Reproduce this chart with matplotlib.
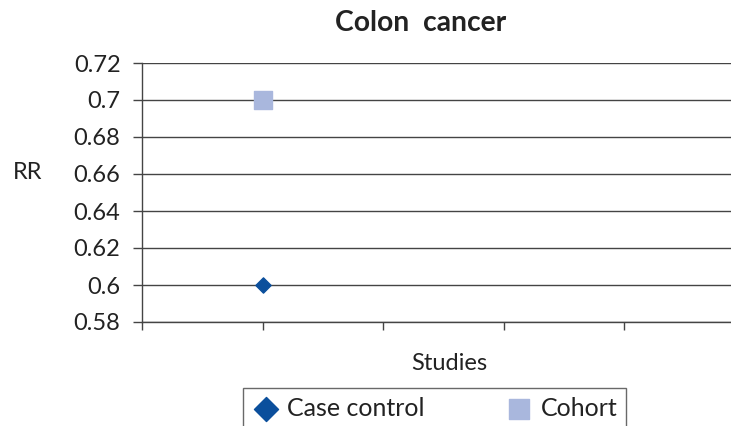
import matplotlib.pyplot as plt

# Data
series = ['Case control', 'Cohort']
study_x = [1, 1]
rr_values = [0.60, 0.70]
y_ticks = [0.58, 0.60, 0.62, 0.64, 0.66, 0.68, 0.70, 0.72]
y_tick_labels = ['0.58', '0.6', '0.62', '0.64', '0.66', '0.68', '0.7', '0.72']

plt.rcParams['font.family'] = ['Lato', 'DejaVu Sans']
text_color = '#222222'
line_color = '#444444'

fig = plt.figure(figsize=(7.31, 4.26), dpi=100)
# plot area runs past the right edge of the picture
ax = fig.add_axes([142 / 731, 1 - 322 / 426, 603 / 731, 259 / 426])

ax.scatter(study_x[0], rr_values[0], marker='D', s=60, color='#0B4F9C',
           label=series[0], zorder=3)
ax.scatter(study_x[1], rr_values[1], marker='s', s=150, color='#A9B7DD',
           label=series[1], zorder=3)

ax.set_xlim(0, 5)
ax.set_ylim(0.58, 0.72)
ax.set_xticks(range(6))
ax.set_xticklabels([])
ax.set_yticks(y_ticks)
ax.set_yticklabels(y_tick_labels)
ax.tick_params(axis='y', direction='out', length=6.5, width=1, color=line_color,
               labelsize=17, labelcolor=text_color, pad=9)
ax.tick_params(axis='x', direction='out', length=5.8, width=1, color=line_color)
ax.grid(axis='y', color=line_color, linewidth=1)
ax.set_axisbelow(True)
for side in ['top', 'right']:
    ax.spines[side].set_visible(False)
for side in ['left', 'bottom']:
    ax.spines[side].set_color(line_color)
    ax.spines[side].set_linewidth(1)

fig.text(421 / 731, 1 - 23 / 426, 'Colon  cancer', ha='center', va='center',
         fontsize=20.3, fontweight='bold', color=text_color)
fig.text(449 / 731, 1 - 364 / 426, 'Studies', ha='center', va='center',
         fontsize=17, color=text_color)
fig.text(28 / 731, 1 - 172 / 426, 'RR', ha='center', va='center',
         fontsize=17, color=text_color)

leg = fig.legend(loc='upper left', bbox_to_anchor=(243 / 731, 1 - 388 / 426),
                 borderaxespad=0, ncol=2, fontsize=18, frameon=True,
                 fancybox=False, columnspacing=3.25, handlelength=1.1,
                 handletextpad=0.3, borderpad=0.35, labelcolor=text_color)
leg.get_frame().set_edgecolor(line_color)
leg.get_frame().set_linewidth(1)
# legend symbols are drawn larger than the plotted points
leg.legend_handles[0].set_sizes([150])
leg.legend_handles[1].set_sizes([210])

fig.savefig('out.png', dpi=100)
